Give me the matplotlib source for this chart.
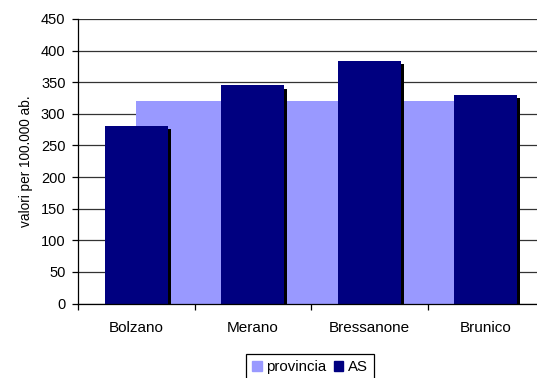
import matplotlib
matplotlib.use("Agg")
import matplotlib.pyplot as plt
import matplotlib.patheffects as pe
import numpy as np

plt.rcParams['font.family'] = ['Liberation Sans', 'DejaVu Sans']

# valori per 100.000 abitanti
categorie = ['Bolzano', 'Merano', 'Bressanone', 'Brunico']
provincia = [320, 320, 320, 320]
as_valori = [281, 345, 384, 330]

x = np.arange(len(categorie))

fig = plt.figure(figsize=(5.37, 3.78), dpi=100)
ax = fig.add_axes([78 / 537, 1 - 303.5 / 378, 466 / 537, 284.5 / 378])

# banda della media provinciale, da un centro di categoria al successivo
ax.fill_between(x, provincia, step='post', color='#9999FF', lw=0, zorder=1)

# colonne AS con ombra nera
ax.bar(x, as_valori, width=0.54, color='#000080', zorder=2,
       path_effects=[pe.SimplePatchShadow(offset=(2.3, -2.3), shadow_rgbFace='black', alpha=1.0),
                     pe.Normal()])

ax.set_xlim(-0.5, len(categorie) - 0.5)
ax.set_ylim(0, 450)
ax.set_yticks(np.arange(0, 451, 50))
ax.yaxis.grid(True, color='#333333', lw=0.9)
ax.set_axisbelow(True)

ax.set_xticks(x)
ax.set_xticklabels(categorie)
ax.set_xticks(np.arange(-0.5, len(categorie), 1), minor=True)
ax.tick_params(axis='x', which='major', length=0, pad=12.5, labelsize=11)
ax.tick_params(axis='x', which='minor', length=4, width=0.9, color='black', direction='out')
ax.tick_params(axis='y', length=4, width=0.9, pad=5, labelsize=10.5)

for s in ['top', 'right']:
    ax.spines[s].set_visible(False)
for s in ['left', 'bottom']:
    ax.spines[s].set_color('black')
    ax.spines[s].set_linewidth(0.9)

ax.set_ylabel('valori per 100.000 ab.', fontsize=9.8, labelpad=6)

h1 = plt.Rectangle((0, 0), 1, 1, color='#9999FF')
h2 = plt.Rectangle((0, 0), 1, 1, color='#000080')
leg = fig.legend([h1, h2], ['provincia', 'AS'], loc='upper center',
                 bbox_to_anchor=(310 / 537, 1 - 354 / 378), ncol=2, fontsize=10.8,
                 frameon=True, fancybox=False, edgecolor='black', framealpha=1,
                 handlelength=0.62, handleheight=0.62, handletextpad=0.3,
                 columnspacing=0.5, borderpad=0.42, borderaxespad=0)
leg.get_frame().set_linewidth(0.9)

fig.savefig('out.png', dpi=100)
